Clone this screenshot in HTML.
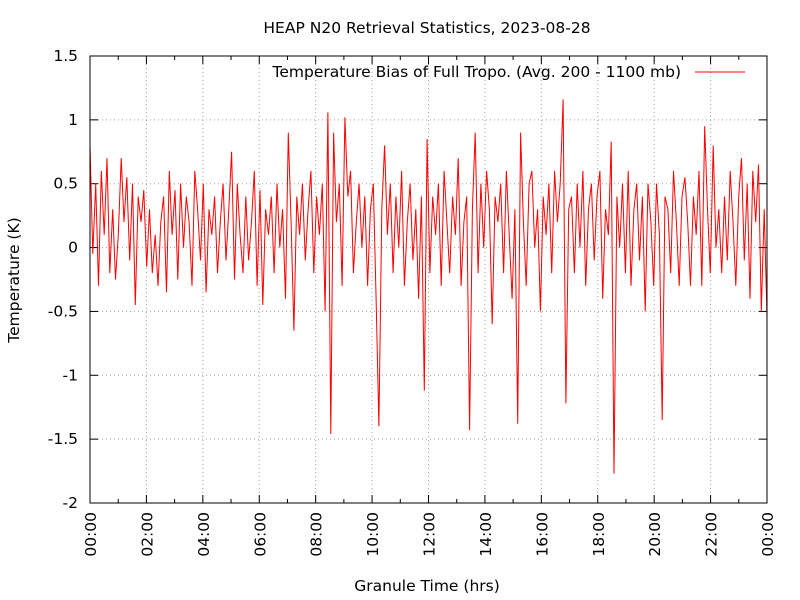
<!DOCTYPE html>
<html><head><meta charset="utf-8"><style>
body{margin:0;background:#fff}
svg{display:block;font-family:"DejaVu Sans","Liberation Sans",sans-serif}
</style></head><body>
<svg id="chart" width="800" height="600" xmlns="http://www.w3.org/2000/svg">
<rect width="800" height="600" fill="#fff"/>
<text x="427" y="33" text-anchor="middle" font-size="15.5">HEAP N20 Retrieval Statistics, 2023-08-28</text>
<g id="grid"></g>
<g id="axes"></g>
<g id="series"></g>
<rect x="90" y="56" width="677" height="447" fill="none" stroke="#000" stroke-width="1"/>
<text transform="translate(19,280) rotate(-90)" text-anchor="middle" font-size="15.5">Temperature (K)</text>
<text x="427" y="591" text-anchor="middle" font-size="15.5">Granule Time (hrs)</text>
<g>
<text x="681" y="77" text-anchor="end" font-size="15.5">Temperature Bias of Full Tropo. (Avg. 200 - 1100 mb)</text>
<line x1="695" y1="72" x2="745" y2="72" stroke="#f00" stroke-width="1"/>
</g>
</svg>
<script>
const yTicks=[1.5,1,0.5,0,-0.5,-1,-1.5,-2];
const yTickLabels=["1.5","1","0.5","0","-0.5","-1","-1.5","-2"];
const xTicks=[0,2,4,6,8,10,12,14,16,18,20,22,24];
const xTickLabels=["00:00","02:00","04:00","06:00","08:00","10:00","12:00","14:00","16:00","18:00","20:00","22:00","00:00"];
const biasValues=[
0.8,-0.05,0.5,-0.3,0.6,0.1,0.7,-0.2,0.3,-0.25,
0.1,0.7,0.2,0.55,-0.1,0.5,-0.45,0.4,0.2,0.45,
-0.15,0.3,-0.2,0.1,-0.3,0.2,0.4,-0.35,0.6,0.1,
0.45,-0.25,0.5,0.0,0.4,0.2,-0.3,0.6,0.3,-0.1,
0.5,-0.35,0.3,0.1,0.4,-0.2,0.2,0.5,-0.1,0.3,
0.75,-0.25,0.5,0.1,-0.2,0.4,-0.1,0.2,0.6,-0.3,
0.45,-0.45,0.3,0.1,0.4,-0.2,0.5,0.0,0.3,-0.4,
0.9,0.2,-0.65,0.4,0.1,0.5,-0.1,0.3,0.6,-0.2,
0.4,0.1,0.5,-0.5,1.06,-1.46,0.9,0.2,0.5,-0.3,
1.02,0.4,0.6,-0.2,0.2,0.5,0.0,0.4,-0.3,0.3,
0.5,-0.4,-1.4,0.3,0.8,0.1,0.5,-0.2,0.4,0.0,
0.6,-0.3,0.2,0.5,-0.1,0.3,-0.4,0.4,-1.12,0.85,
-0.2,0.4,0.1,0.5,-0.3,0.6,0.2,-0.2,0.4,0.1,
0.7,-0.3,0.2,0.4,-1.43,0.3,0.9,-0.2,0.5,0.0,
0.6,0.3,-0.6,0.4,0.2,0.5,-0.2,0.6,0.1,-0.4,
0.3,-1.38,0.9,0.2,-0.3,0.5,0.6,0.0,0.3,-0.5,
0.4,0.1,0.5,-0.2,0.6,0.2,0.5,1.16,-1.22,0.3,
0.4,-0.2,0.5,0.0,0.6,-0.3,0.3,0.5,-0.1,0.4,
0.6,-0.4,0.3,0.1,0.83,-1.77,0.4,0.0,0.5,-0.2,
0.6,-0.3,0.3,0.5,-0.1,0.4,-0.5,0.5,0.2,-0.3,
0.5,0.1,-1.35,0.4,0.3,-0.2,0.6,0.2,-0.3,0.4,
0.55,0.2,-0.3,0.4,0.1,0.6,-0.3,0.95,0.3,-0.2,
0.8,0.0,0.3,-0.2,0.4,-0.1,0.6,0.2,-0.3,0.4,
0.7,-0.1,0.5,-0.4,0.6,0.2,0.65,-0.5,0.3,-0.55];
const NS="http://www.w3.org/2000/svg";
const L=90,R=767,T=56,B=503,yMin=-2,yMax=1.5,xMin=0,xMax=24;
const xs=v=>L+(v-xMin)/(xMax-xMin)*(R-L);
const ys=v=>B-(v-yMin)/(yMax-yMin)*(B-T);
function mk(tag,attrs,parent){const e=document.createElementNS(NS,tag);for(const k in attrs)e.setAttribute(k,attrs[k]);parent.appendChild(e);return e;}
const grid=document.getElementById('grid'),axes=document.getElementById('axes'),series=document.getElementById('series');
yTicks.forEach((v,i)=>{
  const y=ys(v);
  if(v>yMin&&v<yMax){const g=mk('line',{x1:L,x2:R,y1:y,y2:y,stroke:'#a0a0a0','stroke-dasharray':'1,3','stroke-width':1},grid);
  
  }
  mk('line',{x1:L,x2:L+8,y1:y,y2:y,stroke:'#000'},axes);
  mk('line',{x1:R,x2:R-8,y1:y,y2:y,stroke:'#000'},axes);
  const t=mk('text',{x:L-12,y:y+5,'text-anchor':'end','font-size':15.5},axes);
  
  
  t.textContent=yTickLabels[i];
});
for(let h=1;h<24;h+=2){const x=xs(h);mk('line',{x1:x,x2:x,y1:B,y2:B-4,stroke:'#000'},axes);mk('line',{x1:x,x2:x,y1:T,y2:T+4,stroke:'#000'},axes);}
xTicks.forEach((v,i)=>{
  const x=xs(v);
  if(v>xMin&&v<xMax){const g=mk('line',{x1:x,x2:x,y1:T,y2:B,stroke:'#a0a0a0','stroke-dasharray':'1,3','stroke-width':1},grid);
  
  }
  mk('line',{x1:x,x2:x,y1:B,y2:B-8,stroke:'#000'},axes);
  mk('line',{x1:x,x2:x,y1:T,y2:T+8,stroke:'#000'},axes);
  const t=mk('text',{transform:`translate(${x+6},${B+9}) rotate(-90)`,'text-anchor':'end','font-size':15.5},axes);
  
  
  t.textContent=xTickLabels[i];
});
const n=biasValues.length;
const pts=biasValues.map((v,i)=>xs(i*24/(n-1)).toFixed(1)+','+ys(v).toFixed(1)).join(' ');
const line=mk('polyline',{points:pts,fill:'none',stroke:'#f00','stroke-width':1},series);


</script>
</body></html>
